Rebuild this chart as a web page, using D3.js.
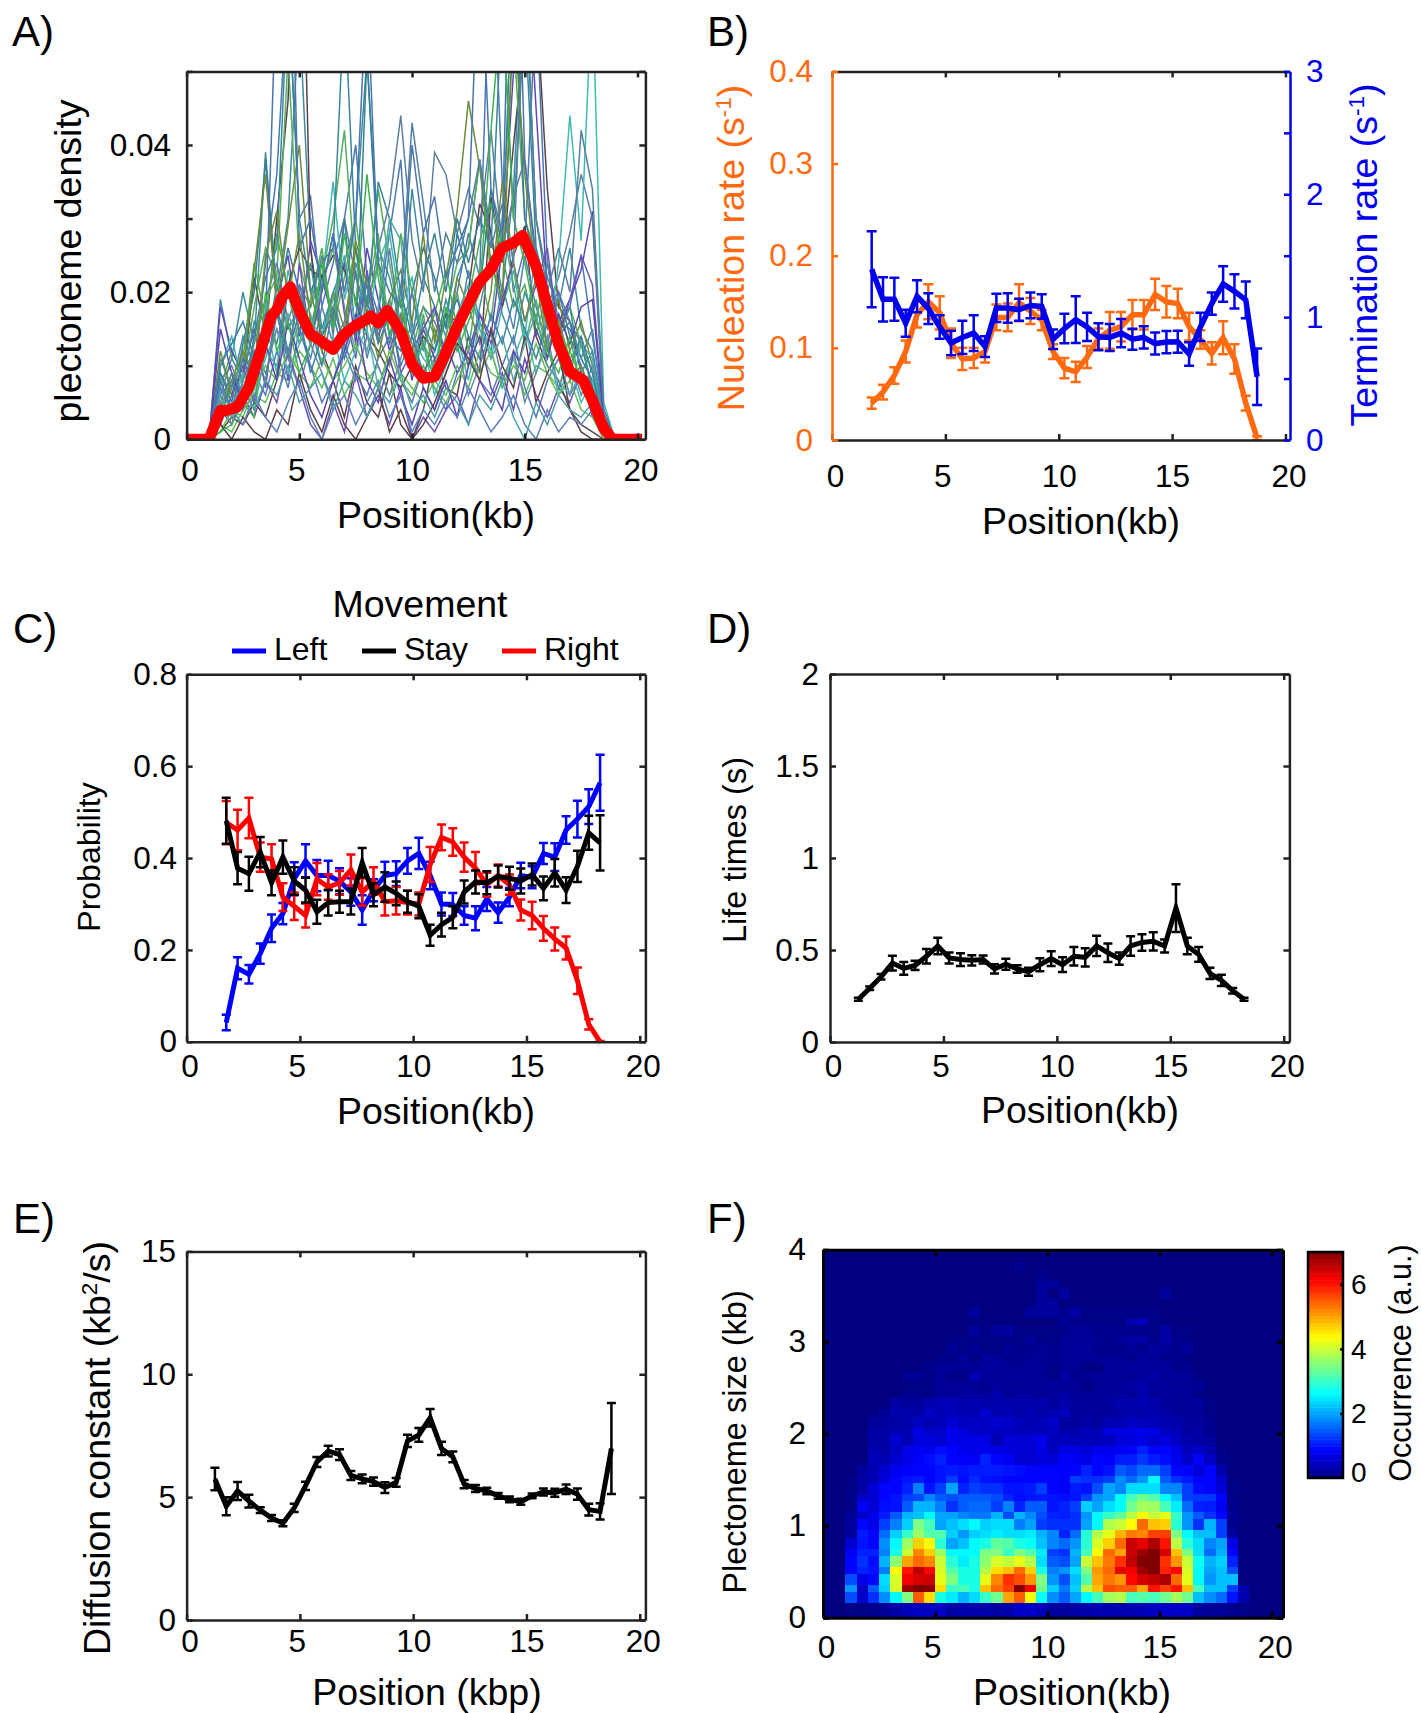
<!DOCTYPE html>
<html>
<head>
<meta charset="utf-8">
<script src="https://cdn.jsdelivr.net/npm/d3@7"></script>
<style>
body { margin: 0; background: #fff; }
text { font-family: "Liberation Sans", Arial, sans-serif; fill: #000; }
</style>
</head>
<body>
<div id="container"></div>
<script>
var xTicks = [0, 5, 10, 15, 20];

// A) single traces (thousandths) and their mean
var traceX = [1,1.5,2,2.5,3,3.5,4,4.5,5,5.5,6,6.5,7,7.5,8,8.5,9,9.5,10,10.5,11,11.5,12,12.5,13,13.5,14,14.5,15,15.5,16,16.5,17,17.5,18,18.5,19];
var traces = [
    [0,9,6,12,8,24,36,62,30,33,18,24,30,40,22,17,28,38,14,18,16,12,20,28,22,72,35,20,26,60,24,16,18,25,14,4,0],
    [0,19,11,20,13,39,20,30,58,26,15,20,24,30,52,26,22,15,34,22,18,14,22,26,38,28,20,34,64,30,22,18,26,15,12,3,0],
    [0,5,3,8,22,14,30,46,90,26,12,8,3,10,5,3,9,2,0,4,11,7,6,14,9,33,24,40,55,60,34,18,16,9,4,1,0],
    [0,7,12,9,18,26,22,52,24,18,22,30,42,22,18,34,24,15,12,18,14,17,24,26,38,22,30,55,30,25,20,15,18,13,9,2,0],
    [0,18,12,9,15,7,19,25,14,27,22,16,24,13,26,19,12,17,8,15,11,13,9,12,17,14,26,50,72,45,20,16,19,23,31,4,0],
    [0,8,10,6,14,19,24,16,21,18,25,14,30,22,17,26,32,44,27,20,39,36,28,34,29,42,26,33,38,25,18,22,28,36,30,3,0],
    [0,10,14,7,11,16,9,23,17,13,21,35,19,26,15,24,28,18,22,13,10,17,12,20,16,11,18,23,14,26,12,24,44,27,62,5,0],
    [0,2,1,4,6,5,9,8,12,10,7,11,6,9,8,10,6,9,7,5,8,6,10,7,12,9,8,11,6,10,9,7,12,8,5,1,0],
    [0,9,5,13,20,38,18,26,20,15,22,17,30,14,52,24,14,12,20,26,22,15,28,22,20,34,26,66,30,24,20,16,15,11,8,2,0],
    [0,6,8,4,9,6,12,7,15,10,5,8,13,9,6,11,14,8,5,10,7,4,9,12,8,6,10,14,7,3,8,11,6,9,4,1,0],
    [0,3,7,11,24,16,28,20,13,19,26,15,22,30,18,24,16,28,20,13,17,23,15,19,27,32,25,18,21,14,20,16,11,13,7,2,0],
    [0,4,2,6,3,8,5,12,7,2,0,5,1,9,3,6,2,7,0,3,1,4,6,2,8,5,9,4,11,6,3,7,5,9,3,1,0],
    [0,1,3,2,5,3,8,21,26,23,22,25,23,19,14,12,9,7,10,14,12,17,16,20,32,28,18,25,29,14,10,8,4,2,1,0,0],
    [0,11,7,14,10,17,13,20,15,11,18,13,16,24,19,13,26,15,20,12,18,10,14,23,16,12,21,15,25,18,13,20,16,11,15,3,0],
    [0,6,11,8,16,12,21,15,18,24,14,20,12,17,22,15,19,13,9,16,12,19,14,10,18,25,17,13,20,16,24,14,18,9,12,2,0],
    [0,4,9,6,13,19,22,11,16,13,21,26,18,12,19,28,14,21,10,17,8,14,20,12,23,16,29,21,13,19,11,17,9,14,6,1,0],
    [0,12,6,9,23,36,18,29,40,20,14,18,13,26,17,11,19,23,16,28,13,22,31,46,37,24,19,58,36,22,15,19,12,16,10,2,0],
    [0,2,6,10,5,14,18,8,24,13,20,28,17,11,23,14,18,9,12,15,18,11,15,10,17,13,19,24,16,21,26,14,19,25,21,3,0],
    [0,7,4,9,6,11,15,9,13,17,10,14,8,12,15,7,11,16,9,13,6,10,14,8,16,12,7,11,15,9,13,6,10,5,8,1,0],
    [0,5,2,8,12,9,15,11,7,13,9,5,12,8,14,10,6,11,16,7,4,9,13,6,10,15,8,12,5,9,14,7,11,6,10,2,0],
    [0,3,8,5,14,22,26,62,30,20,24,26,60,26,18,35,30,20,14,22,28,20,30,24,30,26,60,30,58,26,20,14,16,13,7,2,0],
    [0,8,4,11,7,16,64,88,26,30,20,28,20,30,62,24,20,18,40,28,33,22,26,30,70,34,28,90,38,24,18,20,14,10,6,1,0],
    [0,1,4,3,7,10,8,12,9,7,11,8,10,13,9,7,12,8,6,10,7,5,8,11,9,12,7,10,8,13,9,6,8,4,3,0,0],
    [0,4,8,12,9,25,31,19,28,16,12,20,15,27,21,14,10,17,13,8,15,11,22,18,13,20,35,24,16,22,12,17,8,10,5,1,0],
    [0,15,9,5,10,13,8,16,11,6,3,8,12,17,8,5,11,6,2,7,4,8,3,10,14,7,4,12,9,15,11,17,13,18,19,3,0],
    [0,2,0,3,1,0,4,2,9,4,1,6,2,0,3,7,1,4,0,2,5,9,13,11,8,15,10,7,14,5,9,12,4,1,0,0,0],
    [0,6,3,7,4,12,10,17,13,16,14,19,25,15,12,18,30,27,14,11,9,13,17,21,15,11,14,8,13,17,10,8,6,13,11,1,0],
    [0,10,13,16,11,15,18,12,17,9,14,17,11,16,21,13,17,10,14,9,12,16,19,14,11,17,13,19,15,11,16,13,10,14,9,2,0],
    [0,1,2,5,3,20,12,16,9,13,24,15,28,18,36,22,14,19,10,13,8,18,12,16,20,42,60,30,24,16,12,9,14,7,4,1,0],
    [0,5,9,6,12,8,17,11,21,15,10,18,13,23,11,17,13,20,43,32,20,28,24,30,38,26,32,24,65,30,20,26,20,42,34,4,0],
    [0,7,4,2,6,3,1,5,8,3,0,4,6,2,5,8,3,6,1,4,2,5,3,7,4,1,3,6,2,0,4,1,3,2,4,1,0],
    [0,3,5,7,4,8,6,10,5,7,9,4,8,6,3,7,5,9,4,6,3,7,5,2,6,4,8,3,0,5,2,6,4,3,5,1,0]
];
var traceColors = ['#4a78b4','#3b8a9e','#5a4048','#57ad5b','#6247b4','#5f7f9f','#3fb8b0','#5fbf5f','#357f93','#5577bb','#4cae50','#6a4fb0','#56464c','#4c86b0','#3f8fa0','#55aa70','#6c8a3c','#6a52b8','#45bbb5','#6688aa','#38859a','#4a74ae','#66bb55','#708c40','#5a44ae','#5e3f48','#55a8a8','#3c7fa8','#3fb050','#52809e','#5a80bb','#4aa0a8'];
var meanX = [0,1,1.25,1.5,1.75,2.25,2.75,3.25,3.75,4,4.25,4.6,5,5.5,6,6.5,7,7.5,8,8.15,8.5,8.9,9.5,10,10.5,11,11.5,12,12.5,13,13.5,14,14.5,14.9,15.5,16,16.5,17,17.6,18,18.5,18.9,20.2];
var meanY = [0,0,.002,.0039,.0039,.0044,.007,.0117,.0167,.0176,.0194,.0207,.0175,.0143,.0133,.0122,.0143,.0155,.0163,.0168,.0158,.0175,.0146,.0102,.0083,.0085,.0117,.0153,.0184,.0214,.0231,.026,.0267,.0277,.0235,.0182,.0129,.0092,.008,.0053,.0015,0,0];

// B) rates
var rateX = [1.75,2.25,2.75,3.25,3.75,4.25,4.75,5.25,5.75,6.25,6.75,7.25,7.75,8.25,8.75,9.25,9.75,10.25,10.75,11.25,11.75,12.25,12.75,13.25,13.75,14.25,14.75,15.25,15.75,16.25,16.75,17.25,17.75,18.25,18.75];
var nucleation = [.04,.052,.07,.096,.136,.15,.138,.105,.088,.089,.096,.133,.133,.149,.14,.13,.096,.078,.074,.09,.11,.119,.123,.136,.136,.158,.15,.148,.123,.109,.094,.111,.088,.04,.002];
var nucleationErr = [.006,.008,.009,.012,.014,.019,.018,.016,.012,.011,.012,.014,.015,.02,.014,.011,.008,.011,.011,.012,.011,.02,.016,.016,.016,.017,.017,.016,.015,.01,.012,.018,.016,.008,.002];
var termination = [1.39,1.145,1.145,.95,1.17,1.07,.92,.79,.835,.87,.76,1.075,1.075,1.06,1.095,1.087,.82,.907,.98,.92,.84,.835,.87,.82,.835,.785,.797,.8,.7,.92,1.11,1.27,1.21,1.14,.515];
var terminationErr = [.31,.18,.175,.11,.13,.125,.095,.1,.135,.145,.085,.115,.12,.09,.105,.1,.08,.12,.19,.115,.11,.11,.115,.085,.09,.09,.09,.09,.095,.115,.09,.145,.14,.15,.23];

// C) movement probabilities
var moveX = [1.75,2.25,2.75,3.25,3.75,4.25,4.75,5.25,5.75,6.25,6.75,7.25,7.75,8.25,8.75,9.25,9.75,10.25,10.75,11.25,11.75,12.25,12.75,13.25,13.75,14.25,14.75,15.25,15.75,16.25,16.75,17.25,17.75,18.25];
var moveLeft = [.042,.16,.147,.192,.247,.279,.355,.394,.362,.362,.35,.326,.287,.33,.362,.366,.394,.41,.362,.3,.299,.275,.269,.311,.281,.315,.362,.358,.41,.402,.461,.485,.512,.564];
var moveLeftErr = [.017,.024,.02,.022,.03,.023,.036,.036,.034,.032,.028,.03,.032,.024,.03,.027,.028,.034,.03,.025,.025,.02,.026,.026,.022,.02,.028,.024,.023,.03,.03,.04,.038,.061];
var moveRight = [.477,.461,.487,.402,.398,.315,.295,.275,.354,.337,.346,.374,.326,.35,.305,.307,.303,.3,.386,.445,.435,.402,.378,.342,.362,.342,.287,.275,.247,.224,.204,.133,.038,0];
var moveRightErr = [.047,.044,.044,.032,.032,.03,.03,.026,.035,.028,.026,.034,.03,.03,.03,.03,.026,.025,.038,.028,.03,.032,.035,.026,.024,.022,.023,.03,.027,.025,.025,.029,.011,.002];
var moveStay = [.481,.378,.366,.413,.346,.402,.35,.33,.283,.303,.305,.305,.39,.32,.337,.323,.305,.295,.232,.255,.271,.326,.348,.346,.36,.356,.35,.364,.334,.368,.33,.382,.455,.433];
var moveStayErr = [.05,.035,.037,.033,.027,.036,.03,.027,.026,.028,.024,.028,.032,.025,.032,.026,.024,.026,.023,.026,.024,.025,.025,.025,.024,.025,.027,.024,.026,.03,.028,.034,.037,.06];

// D) life times
var lifeX = [1.25,1.75,2.25,2.75,3.25,3.75,4.25,4.75,5.25,5.75,6.25,6.75,7.25,7.75,8.25,8.75,9.25,9.75,10.25,10.75,11.25,11.75,12.25,12.75,13.25,13.75,14.25,14.75,15.25,15.75,16.25,16.75,17.25,17.75,18.25];
var lifeY = [.232,.292,.354,.429,.4,.416,.466,.522,.457,.448,.444,.448,.397,.423,.397,.382,.42,.453,.42,.466,.46,.522,.485,.453,.522,.541,.547,.522,.728,.522,.476,.373,.335,.279,.232];
var lifeErr = [.008,.01,.015,.04,.035,.025,.04,.045,.03,.035,.028,.022,.025,.03,.02,.022,.035,.04,.04,.05,.05,.055,.05,.033,.053,.045,.05,.035,.13,.045,.04,.03,.03,.015,.008];

// E) diffusion constant
var diffX = [1.25,1.75,2.25,2.75,3.25,3.75,4.25,4.75,5.25,5.75,6.25,6.75,7.25,7.75,8.25,8.75,9.25,9.75,10.25,10.75,11.25,11.75,12.25,12.75,13.25,13.75,14.25,14.75,15.25,15.75,16.25,16.75,17.25,17.75,18.25,18.75];
var diffY = [5.74,4.63,5.25,4.84,4.47,4.15,3.94,4.56,5.46,6.43,6.87,6.73,5.88,5.74,5.63,5.39,5.6,7.29,7.53,8.23,6.98,6.64,5.53,5.35,5.25,5.05,4.91,4.81,5.05,5.21,5.18,5.32,5.12,4.49,4.42,6.98];
var diffErr = [.46,.37,.37,.26,.12,.12,.12,.17,.17,.2,.22,.22,.18,.18,.17,.22,.18,.25,.28,.36,.27,.22,.17,.14,.13,.12,.12,.12,.1,.14,.16,.19,.23,.24,.33,1.85];

// F) occurrence; rows go bottom to top, columns are 0.5 kb wide from 0 kb
var sizeEdges = [0,.161,.28,.356,.476,.552,.672,.748,.867,.954,1.074,1.15,1.27,1.346,1.465,1.541,1.661,1.78,1.867,1.987,2.063,2.183,2.27,2.389,2.465,2.585,2.661,2.78,2.867,2.987,3.063,3.183,3.259,3.378,3.465,3.585,3.661,3.78,3.857,4];
var heatRows = [
    [0,0,.05,.05,.1,.15,.25,.4,.45,.45,.5,.25,.3,.3,.3,.25,.3,.5,.5,.4,.2,.2,.25,.3,.35,.35,.35,.35,.4,.45,.5,.5,.5,.2,.15,.15,.1,.05],
    [0,0,1.4,.5,1.2,1.85,2.6,3.5,5.5,4.6,2.8,2.5,2.1,2.4,3,3.4,5,5.5,4.3,2.7,1.85,1.5,2,2.6,3.1,3.75,3.85,3.1,3.2,3.1,3.4,3.75,3.4,2.2,1.85,1.6,1,.3],
    [0,0,1.9,.5,1.5,2.3,4.1,6.8,7,6.9,4.6,3,3.1,2.8,4.8,5.4,5.7,7,6.2,3.4,2.3,1.7,2.3,3.9,4.8,5.6,5.5,5.5,5,6,5.7,6,4.8,3.1,2.2,2.2,1.3,.3],
    [0,0,1.4,.7,.9,2.4,4.1,6.2,6.4,6.5,4.2,3.5,2.8,2.8,4.2,5.2,5.8,5.6,5.1,3.5,1.9,1.4,2.2,3.2,5,5.3,5.1,6.1,6.4,6.55,6.7,5.4,4.2,2.6,1.9,2.2,2.2],
    [0,0,.9,1.1,1,1.75,4.4,6,6.6,6.1,4.1,3.2,2.8,2.8,3.85,4.6,4.8,5.4,4.7,2.8,1.75,1.9,2.4,3.5,5.1,5.4,6.3,6.2,6.8,7,5.9,6.1,4.1,2.6,2,2.2,1.4],
    [0,0,.9,1.2,.95,2.1,3.6,5,5.4,5.2,4,2.9,2.5,2.8,3.6,4.1,3.95,4.2,3.85,2.4,1.5,1.4,2,4,4.8,5.3,5.8,6.55,7,7,5.8,5.1,4,2.7,2.1,2.3,1.1],
    [0,0,.8,1.1,1.1,1.75,2.8,4,5.2,4.7,3.7,2.6,2.6,2.6,3.5,3.5,3,3.5,3.2,2.5,1.3,1.2,2.1,3.1,4.4,5.4,5,6.5,6.8,7,6.4,4.8,3.5,2.4,1.6,2.1,.9],
    [0,0,.55,1,.9,1.85,2.6,3.7,4.7,4.4,2.9,2,2.2,2.6,2.8,3.3,3.2,2.8,2.7,2.2,1.8,1.6,1.9,2.9,4.1,4.7,5.4,6.5,6.3,6.7,6,3.9,2.9,2.4,1.8,2,.7],
    [0,0,.2,1.05,.9,1.6,2.3,3,3.7,3.2,3.2,2.3,1.9,2.3,2.4,2.5,2.4,2.4,2.5,2.1,1.8,1.1,1.6,2.9,3.85,4.2,4.9,5.3,5.2,5.7,5.7,3.5,2.6,2.2,2.2,1.3,.2],
    [0,0,.2,.9,.7,1.3,1.75,2.3,3.5,3.1,2,2.2,2.4,2.6,2.3,2.4,2.4,1.75,2,1.3,1.2,1.2,1.2,2,2.6,3.85,4,4.4,5.4,4.8,4.7,2.9,1.9,1.2,2.1,1.3,.1],
    [0,0,.15,.5,.7,1.05,1.5,2.1,2.2,2.6,2,2,1.8,1.7,1.7,2.1,1.4,2.1,1.8,1.4,1.1,1.05,1.2,1.9,2.6,3,3.3,3.9,4.4,4,4.2,3,1.9,1.5,1.2,.9,.15],
    [0,0,.05,.8,.6,.95,1,1.5,2.1,2.1,1.75,1.2,1.5,1.6,1.6,1.3,1.75,1.1,1.5,1.5,1,1.1,1.3,2.3,2,2.4,2.6,3.4,3.75,3.7,3.1,2.5,1.6,1.1,1.05,.8,.1],
    [0,0,.05,.5,.55,.9,1,1.3,1.35,1.8,1.5,1.4,1.5,1.5,1.5,1.4,1.1,.95,1,1.05,1,.95,1,1.3,1.9,2,2.6,3.1,3.4,3.2,2.6,2.2,1.3,1.25,1.25,.9,.05],
    [0,0,.05,.25,.6,.9,.9,1.1,1.75,1,1.3,2,1.1,1.3,1.2,1.2,1,1,1.05,1.3,.9,.8,1.05,1,1.4,2,1.8,2.4,2.4,2.4,1.8,1.8,1.3,.95,.9,.6,.05],
    [0,0,.05,.25,.35,.65,.9,1,1.05,.9,1,1.3,.95,1.15,1,.95,.9,.9,.9,.9,.9,.85,1.3,1.2,1.2,1.3,1.85,1.6,1.9,2.6,1.5,1.2,1.05,.9,.9,.5,.05],
    [0,0,0,.2,.35,.55,.75,.85,.9,.9,1,1.05,1,1.05,1.05,1.05,1,.95,.9,.9,.9,.85,.9,1.1,.9,1,1.5,1.35,1.6,1.6,1.3,.9,.9,.6,.9,.3],
    [0,0,0,0,.4,.35,.55,.7,.85,.95,1.1,.9,.85,.8,1.1,.9,.8,.55,.55,.65,.6,.85,.8,.7,.9,.85,1.05,1.05,1.25,1.05,.95,.75,.5,.85,.45,.1],
    [0,0,0,0,.35,.25,.45,.75,.8,.75,.95,.9,.75,.7,.75,.7,.65,.6,.55,.7,.45,.7,.7,.6,.75,.75,.8,.9,1.1,.9,.9,.7,.4,.5,.3,.05],
    [0,0,0,0,.25,.25,.55,.35,.65,.65,.55,.75,.7,.7,.7,.35,.6,.6,.6,.75,.4,.45,.4,.4,.4,.45,.6,.65,.7,.55,.65,.45,.3,.25,.2],
    [0,0,0,0,.25,.25,.35,.35,.7,.5,.5,.75,.65,.5,.5,.45,.45,.4,.4,.4,.45,.3,.3,.4,.35,.65,.7,.7,.75,.7,.45,.4,.2,.25,.1],
    [0,0,0,0,.2,.2,.25,.3,.45,.35,.4,.55,.45,.5,.45,.55,.5,.4,.35,.4,.5,.2,.2,.25,.2,.35,.35,.45,.4,.4,.35,.3,.2,.2,.1],
    [0,0,0,0,0,.15,.3,.3,.25,.5,.35,.4,.35,.3,.55,.3,.35,.25,.35,.25,.35,.45,.2,.2,.2,.2,.25,.3,.25,.3,.25,.2,.15,.15,.05],
    [0,0,0,0,0,0,.25,.2,.2,.3,.4,.4,.3,.35,.3,.3,.3,.3,.3,.3,.2,.3,.2,.2,.15,.2,.3,.3,.35,.3,.2,.15,.15,.2,.05],
    [0,0,0,0,0,0,0,.1,.1,.05,.2,.15,.2,.2,.2,.3,.15,.2,.2,.15,.2,.25,.15,.15,.2,.2,.2,.15,.3,.15,.2,.2,.15,.05],
    [0,0,0,0,0,0,0,.05,.05,.05,.15,.15,.15,.15,.1,.2,.15,.15,.15,.15,.2,.15,.15,.05,.15,.15,.2,.25,.3,.2,.2,.15,.15,.15],
    [0,0,0,0,0,0,0,.15,.15,.05,.15,.05,.05,.4,.2,.15,.15,.2,.15,.15,.05,.25,.1,.15,.2,.2,.15,.15,.2,.25,.15,.2,.2,.05],
    [0,0,0,0,0,0,0,0,0,.1,.15,.15,.15,.15,.2,.2,.15,.15,.15,.15,.05,.15,.15,.05,.05,.2,.15,.2,.2,.2,.2,.1,.1],
    [0,0,0,0,0,0,0,0,0,0,.1,.05,.2,.05,.2,.15,.1,.1,.15,.15,.1,.15,.15,.15,.15,.15,.15,.1,.2,.15,.1,.1,.05],
    [0,0,0,0,0,0,0,0,0,0,0,.15,.05,.15,.05,.05,.15,.1,.1,.15,.1,.15,.2,.2,.1,.1,.1,.15,.1,.2,.15,.1,.2],
    [0,0,0,0,0,0,0,0,0,0,0,.05,.05,.05,.05,.05,.05,.05,.2,.05,.05,.15,.15,.2,.15,.1,.15,.25,.25,.1,.25,.1,.05],
    [0,0,0,0,0,0,0,0,0,0,0,0,0,.2,.05,.2,.2,.05,.05,.05,.05,.1,.15,.15,.1,.1,.1,.1,.1,.05,.25,.05,.05],
    [0,0,0,0,0,0,0,0,0,0,0,0,0,0,0,0,0,0,0,0,0,.15,.05,.05,.05,.05,.05,.3,.4,.05],
    [0,0,0,0,0,0,0,0,0,0,0,0,0,.2,0,0,0,0,.2,.2,.2,.1,.25,.05,.05,.05,.05,.05,.05,.05],
    [0,0,0,0,0,0,0,0,0,0,0,0,0,0,0,0,0,0,0,.2,.2],
    [0,0,0,0,0,0,0,0,0,0,0,0,0,0,0,0,0,0,0,.2,0,.2,0,0,0,0,0,0,0,0,.2],
    [0,0,0,0,0,0,0,0,0,0,0,0,0,0,0,0,0,0,0,.2,.2],
    [0,0,0,0,0,0,0,0,0,0,0,0,0,0,0,0,0,0,0,.1],
    [0,0,0,0,0,0,0,0,0,0,0,0,0,0,0,0,0,.15]
];

var legendLabels = ['Left', 'Stay', 'Right'];
var legendColors = ['#0000ff', '#000000', '#ff0000'];
var orange = '#ff6a10', blue = '#0000ee';
var xLabelShift = [3, -3, 0, 0, 3];

var svg = d3.select('#container')
    .append('svg')
    .attr('width', 1421)
    .attr('height', 1713);

function plain(ax, color, width) {
    ax.selectAll('path').attr('stroke', color).attr('stroke-width', width);
    ax.selectAll('line').attr('stroke', color).attr('stroke-width', width);
    return ax;
}

// box with inward ticks on all four sides
function frame(o) {
    var x = o.x, y = o.y;
    var bottom = y.range()[0], top = y.range()[1], left = x.range()[0], right = x.range()[1];
    var color = o.color || '#222', w = o.width || 2.5;
    var fs = o.fontSize || 31.5;

    var xb = svg.append('g').attr('transform', 'translate(0,' + bottom + ')')
        .call(d3.axisBottom(x).tickValues(xTicks).tickSizeInner(-6).tickSizeOuter(0).tickFormat(d3.format('d')));
    plain(xb, color, w);
    xb.selectAll('text')
        .attr('dy', 0)
        .attr('y', o.xLabelY - bottom)
        .attr('x', function(d, i) { return xLabelShift[i]; })
        .style('font-size', fs + 'px')
        .style('font-family', '"Liberation Sans"')
        .style('fill', '#000');

    plain(svg.append('g').attr('transform', 'translate(0,' + top + ')')
        .call(d3.axisTop(x).tickValues(xTicks).tickSizeInner(-6).tickSizeOuter(0).tickFormat('')), color, w);

    var yl = svg.append('g').attr('transform', 'translate(' + left + ',0)')
        .call(d3.axisLeft(y).tickValues(o.yTicks).tickSizeInner(-6).tickSizeOuter(0).tickFormat(o.yFormat));
    plain(yl, o.leftColor || color, w);
    yl.selectAll('text').attr('x', o.yLabelX - left).style('font-size', fs + 'px').style('font-family', '"Liberation Sans"').style('fill', o.leftColor || '#000');

    var yr = o.yRight || y;
    var ar = svg.append('g').attr('transform', 'translate(' + right + ',0)')
        .call(d3.axisLeft(yr).tickValues(o.yRightTicks || o.yTicks).tickSizeInner(6).tickSizeOuter(0).tickFormat(''));
    plain(ar, o.rightColor || color, w);
}

function title(x, y, str, size) {
    return svg.append('text').attr('x', x).attr('y', y).attr('text-anchor', 'middle')
        .style('font-size', size + 'px').text(str);
}

// rotated axis title; parts with sup=true are raised
function rotTitle(x, y, parts, size, color) {
    var t = svg.append('text')
        .attr('transform', 'translate(' + x + ',' + y + ') rotate(-90)')
        .attr('text-anchor', 'middle')
        .style('font-size', size + 'px')
        .style('fill', color || '#000');
    var wasSup = false;
    parts.forEach(function(p) {
        var s = t.append('tspan').text(p.text).style('fill', color || '#000');
        if (p.sup) {
            s.attr('dy', -size * 0.36).style('font-size', size * 0.6 + 'px');
            wasSup = true;
        } else if (wasSup) {
            s.attr('dy', size * 0.36);
            wasSup = false;
        }
    });
}

function panelLetter(x, y, str) {
    svg.append('text').attr('x', x).attr('y', y).style('font-size', '42px').text(str);
}

// line with caps, error bars under it
function series(x, y, xs, vals, errs, color, lineW, capW, barW) {
    var g = svg.append('g');
    g.selectAll('path.err')
        .data(vals)
        .enter()
        .append('path')
        .attr('class', 'err')
        .attr('fill', 'none')
        .attr('stroke', color)
        .attr('stroke-width', barW)
        .attr('d', function(d, i) {
            var px = x(xs[i]), hi = y(d + errs[i]), lo = y(Math.max(d - errs[i], 0));
            return 'M' + (px - capW) + ',' + hi + 'H' + (px + capW) +
                'M' + px + ',' + hi + 'V' + lo +
                'M' + (px - capW) + ',' + lo + 'H' + (px + capW);
        });
    g.append('path')
        .attr('fill', 'none')
        .attr('stroke', color)
        .attr('stroke-width', lineW)
        .attr('stroke-linejoin', 'miter')
        .attr('d', d3.line().x(function(d, i) { return x(xs[i]); }).y(function(d) { return y(d); })(vals));
}

// ---- A
var ax = d3.scaleLinear().domain([0, 20.35]).range([186.6, 645.4]);
var ay = d3.scaleLinear().domain([0, 0.05]).range([439.3, 71.4]);
svg.append('clipPath').attr('id', 'clipA').append('rect')
    .attr('x', 186.6).attr('y', 71.4).attr('width', 458.8).attr('height', 367.9);
var traceLine = d3.line()
    .x(function(d, i) { return ax(traceX[i]); })
    .y(function(d) { return ay(d / 1000); });
var gA = svg.append('g').attr('clip-path', 'url(#clipA)');
gA.selectAll('path.trace')
    .data(traces)
    .enter()
    .append('path')
    .attr('class', 'trace')
    .attr('fill', 'none')
    .attr('stroke', function(d, i) { return traceColors[i]; })
    .attr('stroke-width', 1.5)
    .attr('d', traceLine);
gA.append('path')
    .attr('fill', 'none')
    .attr('stroke', '#ff0000')
    .attr('stroke-width', 11)
    .attr('stroke-linejoin', 'round')
    .attr('d', d3.line().x(function(d, i) { return ax(meanX[i]); }).y(function(d) { return ay(d); })(meanY));
frame({
    x: ax, y: ay, yTicks: [0, .01, .02, .03, .04, .05],
    yFormat: function(d) { return d === 0 ? '0' : (Math.round(d * 100) % 2 === 0 ? d3.format('.2f')(d) : ''); },
    xLabelY: 481, yLabelX: 171
});
panelLetter(12, 46, 'A)');
title(436, 528, 'Position(kb)', 37.5);
rotTitle(81, 261, [{ text: 'plectoneme density' }], 37.5);

// ---- B
var bx = d3.scaleLinear().domain([0, 20.2]).range([832, 1290]);
var by = d3.scaleLinear().domain([0, 0.4]).range([440, 71.4]);
var byR = d3.scaleLinear().domain([0, 3]).range([440, 71.4]);
series(bx, by, rateX, nucleation, nucleationErr, orange, 5.5, 5, 2.5);
series(bx, byR, rateX, termination, terminationErr, blue, 5.5, 5, 2.5);
frame({
    x: bx, y: by, yTicks: [0, .1, .2, .3, .4],
    yFormat: function(d) { return d === 0 ? '0' : d3.format('.1f')(d); },
    xLabelY: 487, yLabelX: 813, leftColor: orange,
    yRight: byR, yRightTicks: [0, .5, 1, 1.5, 2, 2.5, 3], rightColor: blue
});
svg.append('g').selectAll('text')
    .data([0, 1, 2, 3])
    .enter()
    .append('text')
    .attr('x', 1306)
    .attr('y', function(d) { return byR(d); })
    .attr('dy', '.35em')
    .style('font-size', '31.5px')
    .style('fill', blue)
    .text(function(d) { return d; });
panelLetter(707, 46, 'B)');
title(1081, 534, 'Position(kb)', 37.5);
rotTitle(744, 248, [{ text: 'Nucleation rate (s' }, { text: '-1', sup: true }, { text: ')' }], 37.5, orange);
rotTitle(1377, 255, [{ text: 'Termination rate (s' }, { text: '-1', sup: true }, { text: ')' }], 37.5, blue);

// ---- C
var cx = d3.scaleLinear().domain([0, 20.25]).range([186.6, 645.4]);
var cy = d3.scaleLinear().domain([0, 0.8]).range([1041.8, 674.3]);
series(cx, cy, moveX, moveLeft, moveLeftErr, legendColors[0], 5, 4.5, 2.5);
series(cx, cy, moveX, moveRight, moveRightErr, legendColors[2], 5, 4.5, 2.5);
series(cx, cy, moveX, moveStay, moveStayErr, legendColors[1], 5, 4.5, 2.5);
frame({
    x: cx, y: cy, yTicks: [0, .2, .4, .6, .8],
    yFormat: function(d) { return d === 0 ? '0' : d3.format('.1f')(d); },
    xLabelY: 1077, yLabelX: 177
});
panelLetter(13, 643, 'C)');
title(436, 1124, 'Position(kb)', 37.5);
title(420, 617, 'Movement', 37.5);
rotTitle(100, 857, [{ text: 'Probability' }], 32);
var legendLineX = [232, 362, 502];
var legendTextX = [274, 404, 544];
legendLabels.forEach(function(name, i) {
    svg.append('line')
        .attr('x1', legendLineX[i]).attr('x2', legendLineX[i] + 34)
        .attr('y1', 651).attr('y2', 651)
        .attr('stroke', legendColors[i]).attr('stroke-width', 5);
    svg.append('text').attr('x', legendTextX[i]).attr('y', 660).style('font-size', '32px').text(name);
});

// ---- D
var dx = d3.scaleLinear().domain([0, 20.25]).range([830, 1289.4]);
var dy = d3.scaleLinear().domain([0, 2]).range([1042, 674]);
series(dx, dy, lifeX, lifeY, lifeErr, '#000', 5, 4.5, 2.5);
frame({
    x: dx, y: dy, yTicks: [0, .5, 1, 1.5, 2],
    yFormat: d3.format(''),
    xLabelY: 1077, yLabelX: 819
});
panelLetter(707, 643, 'D)');
title(1080, 1123, 'Position(kb)', 37.5);
rotTitle(746, 850, [{ text: 'Life times (s)' }], 32.5);

// ---- E
var ex = d3.scaleLinear().domain([0, 20.25]).range([186.6, 645.4]);
var ey = d3.scaleLinear().domain([0, 15]).range([1620, 1251.4]);
series(ex, ey, diffX, diffY, diffErr, '#000', 5, 4.5, 2.5);
frame({
    x: ex, y: ey, yTicks: [0, 5, 10, 15],
    yFormat: d3.format('d'),
    xLabelY: 1652, yLabelX: 176
});
panelLetter(13, 1233, 'E)');
title(427, 1705, 'Position (kbp)', 37.5);
rotTitle(110, 1448, [{ text: 'Diffusion constant (kb' }, { text: '2', sup: true }, { text: '/s)' }], 37.5);

// ---- F
var fx = d3.scaleLinear().domain([0, 20.5]).range([823, 1283]);
var fy = d3.scaleLinear().domain([0, 4]).range([1617.8, 1249.7]);
var jet = d3.scaleLinear()
    .domain([0, .875, 2.625, 4.375, 6.125, 7])
    .range(['#000080', '#0000ff', '#00ffff', '#ffff00', '#ff0000', '#800000'])
    .clamp(true);
svg.append('rect')
    .attr('x', 823).attr('y', 1249.7).attr('width', 460).attr('height', 368.1)
    .attr('fill', jet(0));
heatRows.forEach(function(row, i) {
    svg.append('g').selectAll('rect')
        .data(row)
        .enter()
        .append('rect')
        .attr('x', function(d, j) { return fx(j * 0.5); })
        .attr('width', function(d, j) { return fx(j * 0.5 + 0.5) - fx(j * 0.5); })
        .attr('y', fy(sizeEdges[i + 1]))
        .attr('height', fy(sizeEdges[i]) - fy(sizeEdges[i + 1]))
        .attr('shape-rendering', 'crispEdges')
        .attr('fill', function(d) { return jet(d); });
});
frame({
    x: fx, y: fy, yTicks: [0, 1, 2, 3, 4],
    yFormat: d3.format('d'),
    xLabelY: 1658, yLabelX: 806, color: '#000', width: 3
});
panelLetter(707, 1233, 'F)');
title(1072, 1705, 'Position(kb)', 37.5);
rotTitle(746, 1442, [{ text: 'Plectoneme size (kb)' }], 32.5);

// colorbar
var cbY = d3.scaleLinear().domain([0, 7]).range([1478, 1252]);
svg.append('g').selectAll('rect')
    .data(d3.range(64))
    .enter()
    .append('rect')
    .attr('x', 1308)
    .attr('width', 35)
    .attr('y', function(d) { return cbY((d + 1) * 7 / 64); })
    .attr('height', function(d) { return cbY(d * 7 / 64) - cbY((d + 1) * 7 / 64) + 0.5; })
    .attr('fill', function(d) { return jet((d + 0.5) * 7 / 64); });
svg.append('rect')
    .attr('x', 1308).attr('y', 1252).attr('width', 35).attr('height', 226)
    .attr('fill', 'none').attr('stroke', '#000').attr('stroke-width', 2.5);
var cbAxis = svg.append('g').attr('transform', 'translate(1343,0)')
    .call(d3.axisLeft(cbY).tickValues([2, 4, 6]).tickSizeInner(3).tickSizeOuter(0).tickFormat(''));
cbAxis.select('path').remove();
cbAxis.selectAll('line').attr('stroke', '#000').attr('stroke-width', 2.5);
svg.append('g').selectAll('text')
    .data([0, 2, 4, 6])
    .enter()
    .append('text')
    .attr('x', 1351)
    .attr('y', function(d) { return d === 0 ? cbY(d) - 6 : cbY(d); })
    .attr('dy', '.35em')
    .style('font-size', '28px')
    .text(function(d) { return d; });
rotTitle(1411, 1363, [{ text: 'Occurrence (a.u.)' }], 30.5);
</script>
</body>
</html>
